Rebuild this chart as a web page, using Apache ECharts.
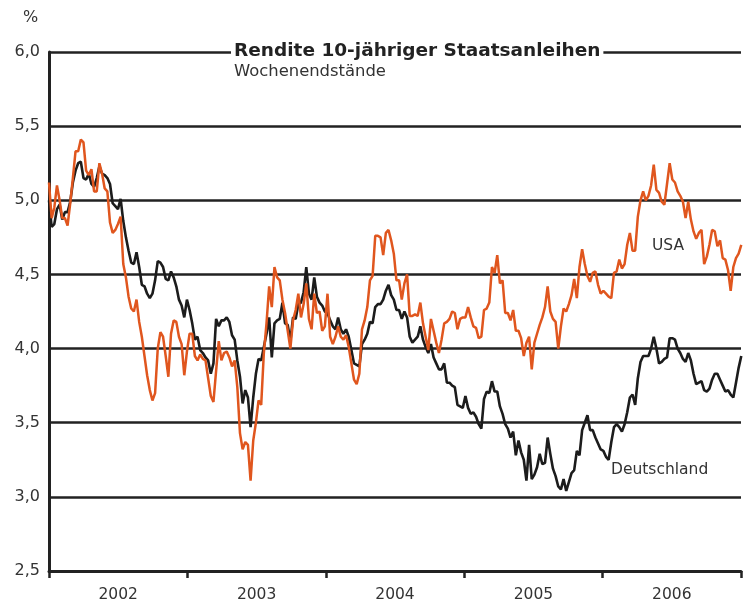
<!DOCTYPE html>
<html>
<head>
<meta charset="utf-8">
<script src="https://cdn.jsdelivr.net/npm/echarts@6/dist/echarts.min.js"></script>
<style>html,body{margin:0;padding:0;background:#fff}#c{width:744px;height:605px}</style>
</head>
<body>
<div id="c"></div>
<script>
// Weekly yields of 10-year government bonds, weeks from start of 2002
var startYear = 2002;
var yearTicks = ['2002', '2003', '2004', '2005', '2006'];
var yTicks = [2.5, 3.0, 3.5, 4.0, 4.5, 5.0, 5.5, 6.0];

var deutschland = [
5.00,4.82,4.84,4.94,4.97,4.87,4.92,4.92,4.99,5.12,
5.20,5.25,5.26,5.15,5.14,5.18,5.11,5.09,5.15,5.23,
5.18,5.17,5.15,5.11,4.98,4.96,4.94,5.01,4.86,4.75,
4.66,4.58,4.57,4.65,4.55,4.43,4.42,4.37,4.34,4.37,
4.46,4.59,4.58,4.55,4.47,4.46,4.52,4.48,4.42,4.33,
4.29,4.21,4.33,4.26,4.17,4.06,4.08,3.99,3.97,3.94,
3.92,3.83,3.90,4.20,4.15,4.19,4.19,4.21,4.18,4.09,
4.06,3.92,3.81,3.63,3.72,3.67,3.47,3.67,3.83,3.93,
3.92,4.01,4.10,4.21,3.94,4.17,4.19,4.20,4.31,4.17,
4.16,4.05,4.21,4.20,4.30,4.31,4.38,4.55,4.37,4.33,
4.48,4.35,4.31,4.29,4.25,4.24,4.19,4.15,4.13,4.21,
4.13,4.10,4.13,4.08,3.99,3.90,3.89,3.88,4.03,4.06,
4.10,4.18,4.17,4.28,4.30,4.30,4.33,4.39,4.43,4.36,
4.33,4.26,4.26,4.20,4.25,4.21,4.08,4.04,4.06,4.08,
4.15,4.06,4.01,3.97,4.03,3.94,3.90,3.86,3.86,3.90,
3.77,3.77,3.75,3.74,3.62,3.61,3.60,3.68,3.60,3.56,
3.57,3.54,3.49,3.46,3.66,3.71,3.70,3.78,3.71,3.71,
3.61,3.56,3.49,3.46,3.40,3.44,3.28,3.38,3.30,3.25,
3.11,3.35,3.12,3.15,3.20,3.29,3.22,3.23,3.40,3.29,
3.19,3.14,3.07,3.05,3.12,3.04,3.10,3.16,3.18,3.31,
3.28,3.45,3.50,3.55,3.45,3.45,3.40,3.36,3.32,3.31,
3.27,3.25,3.37,3.47,3.49,3.47,3.44,3.49,3.57,3.67,
3.69,3.62,3.80,3.91,3.95,3.95,3.95,4.00,4.08,4.00,
3.90,3.91,3.93,3.94,4.07,4.07,4.06,4.00,3.97,3.93,
3.91,3.97,3.92,3.83,3.76,3.77,3.78,3.72,3.71,3.73,
3.79,3.83,3.83,3.79,3.75,3.71,3.72,3.69,3.67,3.77,
3.87,3.95
];

var usa = [
5.12,4.88,4.95,5.10,5.00,4.88,4.88,4.83,4.98,5.15,
5.33,5.33,5.41,5.39,5.20,5.17,5.21,5.06,5.06,5.25,
5.18,5.08,5.06,4.85,4.78,4.80,4.84,4.89,4.57,4.48,
4.35,4.27,4.25,4.33,4.18,4.08,3.95,3.82,3.72,3.65,
3.70,4.00,4.11,4.08,3.95,3.81,4.10,4.19,4.18,4.08,
4.03,3.82,3.98,4.10,4.10,3.95,3.92,3.96,3.93,3.92,
3.80,3.68,3.64,3.85,4.05,3.92,3.97,3.98,3.94,3.88,
3.92,3.74,3.43,3.32,3.37,3.35,3.11,3.38,3.50,3.65,
3.62,3.97,4.17,4.42,4.28,4.55,4.48,4.46,4.33,4.24,
4.12,4.00,4.19,4.26,4.37,4.21,4.30,4.44,4.20,4.13,
4.37,4.24,4.25,4.12,4.15,4.37,4.08,4.03,4.08,4.15,
4.08,4.06,4.09,4.01,3.90,3.79,3.76,3.83,4.13,4.19,
4.28,4.46,4.49,4.76,4.76,4.75,4.63,4.78,4.80,4.73,
4.64,4.46,4.46,4.33,4.44,4.50,4.22,4.22,4.23,4.22,
4.31,4.17,4.08,3.99,4.20,4.12,4.04,3.97,4.06,4.17,
4.18,4.20,4.25,4.24,4.13,4.20,4.21,4.21,4.28,4.21,
4.15,4.14,4.07,4.08,4.26,4.27,4.31,4.55,4.51,4.63,
4.44,4.46,4.24,4.24,4.19,4.26,4.12,4.12,4.07,3.95,
4.04,4.08,3.86,4.04,4.10,4.16,4.21,4.28,4.42,4.25,
4.20,4.18,4.00,4.15,4.27,4.25,4.30,4.36,4.47,4.34,
4.55,4.67,4.57,4.49,4.45,4.51,4.52,4.43,4.37,4.39,
4.37,4.35,4.34,4.51,4.52,4.60,4.54,4.57,4.70,4.78,
4.66,4.66,4.89,5.00,5.06,5.00,5.03,5.10,5.24,5.07,
5.05,4.99,4.97,5.11,5.25,5.14,5.12,5.06,5.03,4.99,
4.88,4.99,4.87,4.79,4.74,4.78,4.80,4.57,4.62,4.70,
4.80,4.79,4.69,4.73,4.61,4.60,4.53,4.39,4.55,4.61,
4.64,4.70
];

// week positions as decimal years
function weekPos(i) { return startYear + i * 7 / 365.25; }
function pairs(arr) { return arr.map(function (v, i) { return [weekPos(i), v]; }); }

var FONT = 'DejaVu Sans';
var INK = '#222222';
var TXT = '#333333';

var chart = echarts.init(document.getElementById('c'), null, {renderer: 'canvas'});
chart.setOption({
  animation: false,
  backgroundColor: '#ffffff',
  title: {
    text: 'Rendite 10-jähriger Staatsanleihen',
    subtext: 'Wochenendstände',
    left: 231,
    top: 40,
    itemGap: 0,
    padding: [0, 3, 0, 3],
    backgroundColor: '#ffffff',
    textStyle: {fontFamily: FONT, fontSize: 18.5, fontWeight: 'bold', color: INK, lineHeight: 22},
    subtextStyle: {fontFamily: FONT, fontSize: 16.4, color: TXT, lineHeight: 19}
  },
  grid: {left: 49, right: 1, top: 52, bottom: 34, containLabel: false},
  xAxis: [
    {
      type: 'value', min: startYear, max: startYear + yearTicks.length, interval: 0.5,
      axisLine: {show: true, lineStyle: {color: INK, width: 3}},
      axisTick: {show: false},
      splitLine: {show: false},
      axisLabel: {
        fontFamily: FONT, fontSize: 15.5, color: TXT, margin: 16,
        formatter: function (v) {
          var k = Math.round((v - startYear - 0.5));
          if (Math.abs(v - startYear - 0.5 - k) < 1e-6 && yearTicks[k]) return yearTicks[k];
          return '';
        }
      }
    },
    {
      type: 'value', position: 'bottom', min: startYear, max: startYear + yearTicks.length, interval: 1,
      axisLine: {show: false},
      axisTick: {show: true, length: 7, inside: false, lineStyle: {color: INK, width: 2.5}},
      axisLabel: {show: false},
      splitLine: {show: false}
    }
  ],
  yAxis: {
    type: 'value', min: yTicks[0], max: yTicks[yTicks.length - 1], interval: 0.5,
    axisLine: {show: true, lineStyle: {color: INK, width: 3}},
    axisTick: {show: false},
    splitLine: {show: true, lineStyle: {color: INK, width: 2.5}},
    axisLabel: {
      fontFamily: FONT, fontSize: 16, color: TXT, margin: 9,
      formatter: function (v) { return v.toFixed(1).replace('.', ','); }
    }
  },
  graphic: [
    {type: 'text', left: 23, top: 10, style: {text: '%', font: '16px "DejaVu Sans"', fill: TXT}},
    {type: 'text', left: 652, top: 238, style: {text: 'USA', font: '15.5px "DejaVu Sans"', fill: TXT}},
    {type: 'text', left: 611, top: 462, style: {text: 'Deutschland', font: '15.5px "DejaVu Sans"', fill: TXT}}
  ],
  series: [
    {
      name: 'Deutschland', type: 'line', data: pairs(deutschland), showSymbol: false, symbol: 'none',
      lineStyle: {color: '#1c1c1c', width: 2.6}, z: 3
    },
    {
      name: 'USA', type: 'line', data: pairs(usa), showSymbol: false, symbol: 'none',
      lineStyle: {color: '#E0561E', width: 2.5}, z: 4
    }
  ]
});
</script>
</body>
</html>
